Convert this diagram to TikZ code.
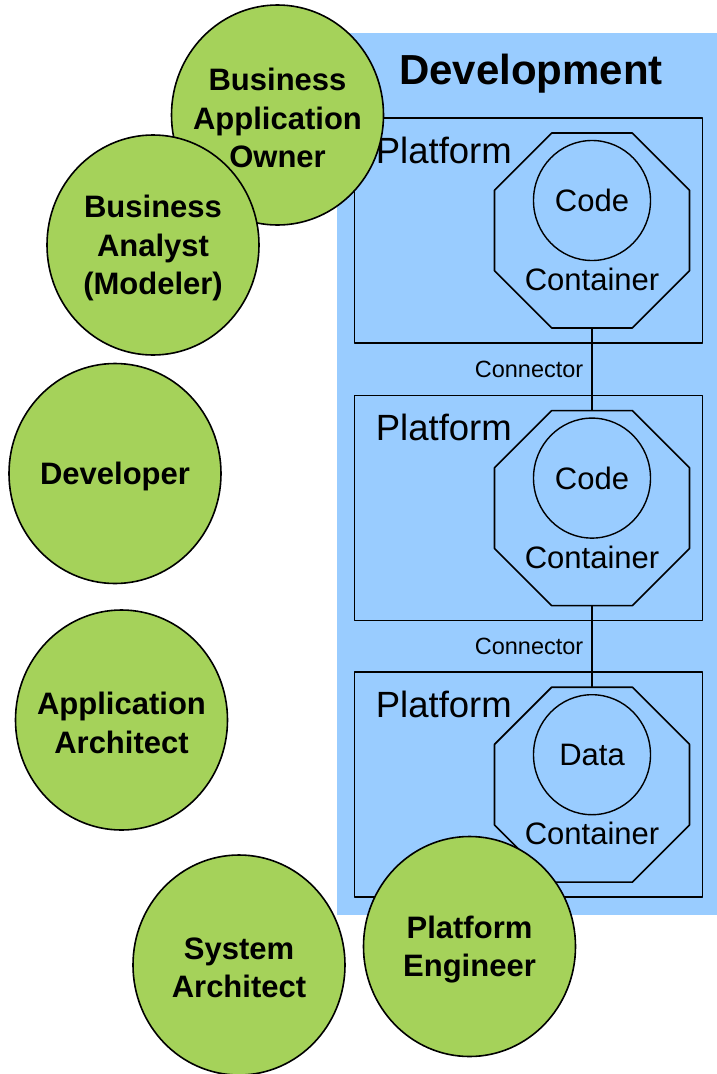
\documentclass[tikz,border=0pt]{standalone}
\usepackage{fontspec}
\setmainfont{Liberation Sans}
\usepackage{tikz}
\usetikzlibrary{positioning,shapes.geometric}
\definecolor{ppddhh}{rgb}{0.6,0.8,1.0}
\definecolor{azdeza}{rgb}{0.6470588235294118,0.8235294117647058,0.35294117647058826}

\begin{document}
\begin{tikzpicture}[line cap=round,line join=round,x=1pt,y=-1pt,
  platformbox/.style={draw,line width=1.6pt,minimum width=348pt,minimum height=225pt,inner sep=0pt},
  containerbox/.style={draw,line width=1.6pt,regular polygon,regular polygon sides=8,minimum size=211pt,inner sep=0pt},
  unitbox/.style={draw,line width=1.4pt,ellipse,minimum width=117pt,minimum height=120pt,inner sep=0pt,font=\fontsize{31}{37}\selectfont},
  role/.style={draw,line width=1.6pt,fill=azdeza,ellipse,minimum width=212pt,minimum height=220pt,inner sep=0pt},
  rolelabel/.style={align=center,inner sep=0pt,yshift=-3pt,font=\fontsize{31}{38.5}\selectfont\bfseries}]
\useasboundingbox (0,0) rectangle (717,1074);
\fill[ppddhh] (337,33) rectangle (717,915);
\node[anchor=base,inner sep=0pt,font=\fontsize{42}{50}\selectfont\bfseries] (title) at (531,84) {Development};
% platforms
\node[platformbox] (plat1) at (528.5,230.5) {};
\node[platformbox,below=51pt of plat1] (plat2) {};
\node[platformbox,below=50pt of plat2] (plat3) {};
\foreach \p in {plat1,plat2,plat3}
  \node[anchor=base west,inner sep=0pt,font=\fontsize{36.5}{44}\selectfont] (\p-name) at ([xshift=22pt,yshift=-46pt]\p.north west) {Platform};
% containers
\foreach \i/\u in {1/Code,2/Code,3/Data}{
  \node[containerbox] (cont\i) at ([xshift=63.5pt]plat\i.center) {};
  \node[unitbox] (unit\i) at ([yshift=30pt]cont\i.center) {\u};
  \node[inner sep=0pt,font=\fontsize{31}{37}\selectfont] (cont\i-name) at ([yshift=-49pt]cont\i.center) {Container};
}
\draw[line width=1.4pt] (cont1.south) -- node[left=8pt,inner sep=0pt,font=\fontsize{23.5}{28}\selectfont] (conn1) {Connector} (cont2.north);
\draw[line width=1.4pt] (cont2.south) -- node[left=8pt,inner sep=0pt,font=\fontsize{23.5}{28}\selectfont] (conn2) {Connector} (cont3.north);
% roles
\node[role,label={[rolelabel]center:{Business\\Application\\Owner}}] (owner) at (277.5,115) {};
\node[role,label={[rolelabel]center:{Business\\Analyst\\(Modeler)}}] (analyst) at (153,245) {};
\node[role,label={[rolelabel]center:{Developer}}] (developer) at (115,473.5) {};
\node[role,label={[rolelabel]center:{Application\\Architect}}] (apparch) at (121.5,720) {};
\node[role,label={[rolelabel]center:{System\\Architect}}] (sysarch) at (239,965) {};
\node[role,label={[rolelabel]center:{Platform\\Engineer}}] (plateng) at (469.5,946.5) {};
\end{tikzpicture}
\end{document}
